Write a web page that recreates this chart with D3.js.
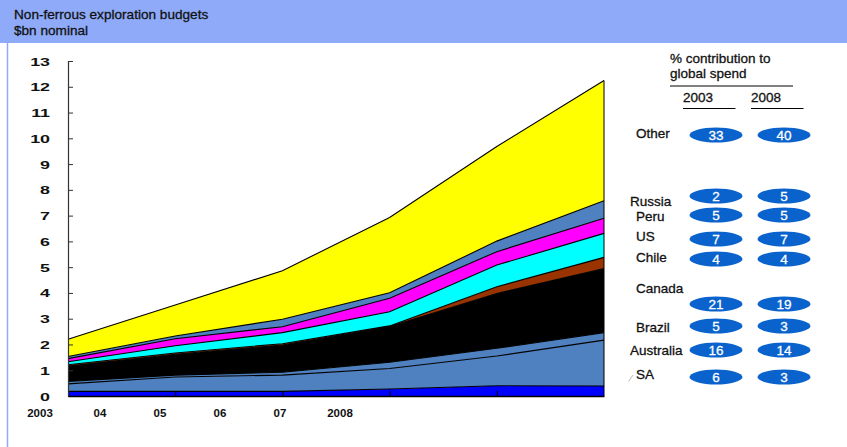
<!DOCTYPE html>
<html>
<head>
<meta charset="utf-8">
<script src="https://cdn.jsdelivr.net/npm/d3@7"></script>
<style>
  body { margin: 0; background: #fff; }
  svg { display: block; }
</style>
</head>
<body>
<svg id="chart" width="847" height="447"></svg>
<script>
// Non-ferrous exploration budgets by region, $bn nominal (stack layers, bottom to top)
const years = [2003, 2004, 2005, 2006, 2007, 2008];
const yearLabels = ["2003", "04", "05", "06", "07", "2008"];
const yTickValues = [0, 1, 2, 3, 4, 5, 6, 7, 8, 9, 10, 11, 12, 13];

const sa        = [0.18, 0.18, 0.18, 0.27, 0.40, 0.39];
const australia = [0.29, 0.56, 0.63, 0.80, 1.15, 1.78];
const brazil    = [0.09, 0.07, 0.11, 0.24, 0.30, 0.29];
const canada    = [0.60, 0.81, 1.06, 1.39, 2.13, 2.49];
const chile     = [0.05, 0.05, 0.05, 0.02, 0.26, 0.43];
const us        = [0.12, 0.28, 0.43, 0.55, 0.84, 0.93];
const peru      = [0.12, 0.27, 0.23, 0.52, 0.52, 0.59];
const russia    = [0.08, 0.11, 0.29, 0.22, 0.41, 0.68];
const other     = [0.67, 1.20, 1.88, 2.92, 3.67, 4.66];

const layerKeys = ["SA", "Australia", "Brazil", "Canada", "Chile", "US", "Peru", "Russia", "Other"];
const layerColors = ["#0000ff", "#4f80bf", "#4f80bf", "#000000", "#993300", "#00ffff", "#ff00ff", "#4f80bf", "#ffff00"];

// % contribution to global spend, listed top to bottom in the side table
const tableRegions = ["Other", "Russia", "Peru", "US", "Chile", "Canada", "Brazil", "Australia", "SA"];
const share2003 = [33, 2, 5, 7, 4, 21, 5, 16, 6];
const share2008 = [40, 5, 5, 7, 4, 19, 3, 14, 3];

const seriesByKey = { SA: sa, Australia: australia, Brazil: brazil, Canada: canada, Chile: chile,
                      US: us, Peru: peru, Russia: russia, Other: other };
const rows = years.map((yr, i) => {
  const r = { year: yr };
  layerKeys.forEach(k => { r[k] = seriesByKey[k][i]; });
  return r;
});

const svg = d3.select("#chart");
const W = 847, H = 447;

// header band and left rule
svg.append("rect").attr("x", 0).attr("y", 0).attr("width", W).attr("height", 43).attr("fill", "#8eaaf8");
svg.append("line").attr("x1", 7.5).attr("x2", 7.5).attr("y1", 43).attr("y2", H)
  .attr("stroke", "#8eaaf8").attr("stroke-width", 1.5);

const textFont = "'Liberation Sans', Arial, sans-serif";
// slightly heavier than regular weight
const medium = sel => sel.attr("stroke", "#111").attr("stroke-width", 0.3);

svg.append("text").attr("x", 14).attr("y", 19).text("Non-ferrous exploration budgets")
  .attr("font-family", textFont).attr("font-size", 13.6).attr("fill", "#111").call(medium);
svg.append("text").attr("x", 14).attr("y", 35).text("$bn nominal")
  .attr("font-family", textFont).attr("font-size", 13.6).attr("fill", "#111").call(medium);

// scales
const x = d3.scaleLinear().domain([2003, 2008]).range([68, 604]);
const y = d3.scaleLinear().domain([0, 13]).range([396, 61]);
const xLabel = d3.scalePoint().domain(yearLabels).range([40, 340]);

const stacked = d3.stack().keys(layerKeys)(rows);

const area = d3.area()
  .x(d => x(d.data.year))
  .y0(d => y(d[0]))
  .y1(d => y(d[1]));
const topLine = d3.line()
  .x(d => x(d.data.year))
  .y(d => y(d[1]));

const g = svg.append("g");
g.selectAll("path.layer").data(stacked).join("path")
  .attr("class", "layer")
  .attr("d", area)
  .attr("fill", (d, i) => layerColors[i]);

g.selectAll("path.edge").data(stacked).join("path")
  .attr("class", "edge")
  .attr("d", topLine)
  .attr("fill", "none")
  .attr("stroke", "#000")
  .attr("stroke-width", 1.1);

// right edge of the stack
const last = stacked[stacked.length - 1];
g.append("line")
  .attr("x1", x(2008)).attr("x2", x(2008))
  .attr("y1", y(0)).attr("y2", y(last[last.length - 1][1]))
  .attr("stroke", "#000").attr("stroke-width", 1);

// axes
const yAxis = d3.axisLeft(y).tickValues(yTickValues).tickSizeInner(-5).tickSizeOuter(0).tickFormat("");
const yG = svg.append("g").attr("transform", "translate(68,0)").call(yAxis);
yG.select(".domain").attr("stroke", "#333").attr("stroke-width", 1.2);
yG.selectAll(".tick line").attr("stroke", "#333");

const xAxis = d3.axisBottom(x).tickValues([2004, 2005, 2006, 2007]).tickSizeInner(-5).tickSizeOuter(0).tickFormat("");
const xG = svg.append("g").attr("transform", "translate(0,396)").call(xAxis);
xG.select(".domain").attr("stroke", "#000").attr("stroke-width", 1.5);
xG.selectAll(".tick line").attr("stroke", "#000");

// y tick labels, wide bold face
svg.append("g").selectAll("text").data(yTickValues).join("text")
  .attr("transform", d => `translate(50,${y(d) + 4.5}) scale(1.7,1)`)
  .attr("text-anchor", "end")
  .attr("font-family", textFont)
  .attr("font-weight", "bold")
  .attr("font-size", 10.5)
  .attr("fill", "#111")
  .text(d => d);

// x labels
svg.append("g").selectAll("text").data(yearLabels).join("text")
  .attr("x", d => xLabel(d))
  .attr("y", 417)
  .attr("text-anchor", "middle")
  .attr("font-family", textFont)
  .attr("font-weight", "bold")
  .attr("font-size", 11.5)
  .attr("fill", "#111")
  .text(d => d);

// side table
svg.append("text").attr("x", 670).attr("y", 63).text("% contribution to")
  .attr("font-family", textFont).attr("font-size", 13.5).attr("fill", "#111").call(medium);
svg.append("text").attr("x", 670).attr("y", 77.5).text("global spend")
  .attr("font-family", textFont).attr("font-size", 13.5).attr("fill", "#111").call(medium);
svg.append("line").attr("x1", 670).attr("x2", 793).attr("y1", 86).attr("y2", 86).attr("stroke", "#000");
const colX = d3.scalePoint().domain(["2003", "2008"]).range([716, 784]);
["2003", "2008"].forEach(c => {
  svg.append("text").attr("x", colX(c) - 33).attr("y", 101.5).text(c)
    .attr("font-family", textFont).attr("font-size", 13.5).attr("fill", "#111").call(medium);
  svg.append("line").attr("x1", colX(c) - 33).attr("x2", colX(c) + 19.5)
    .attr("y1", 108.5).attr("y2", 108.5).attr("stroke", "#000");
});

const rowY = d3.scaleOrdinal().domain(tableRegions).range([135, 196, 215, 239, 259, 304, 326, 350, 377]);
const labelY = d3.scaleOrdinal().domain(tableRegions).range([138, 206, 221, 241, 262, 293, 332, 355, 379]);
const labelX = d3.scaleOrdinal().domain(tableRegions).range([636, 630, 636, 636, 636, 636, 636, 630, 636]);

const rowsG = svg.append("g");
tableRegions.forEach((reg, i) => {
  rowsG.append("text").attr("x", labelX(reg)).attr("y", labelY(reg)).text(reg)
    .attr("font-family", textFont).attr("font-size", 13.5).attr("fill", "#111").call(medium);
  [["2003", share2003[i]], ["2008", share2008[i]]].forEach(([c, v]) => {
    rowsG.append("ellipse").attr("cx", colX(c)).attr("cy", rowY(reg))
      .attr("rx", 26.5).attr("ry", 7.5).attr("fill", "#0a62cc");
    rowsG.append("text").attr("x", colX(c)).attr("y", rowY(reg) + 5)
      .attr("text-anchor", "middle").text(v)
      .attr("font-family", textFont).attr("font-size", 13.5).attr("fill", "#fff")
      .attr("stroke", "#fff").attr("stroke-width", 0.3);
  });
});
// small stroke beside SA
svg.append("line").attr("x1", 628.5).attr("y1", 381.5).attr("x2", 633).attr("y2", 375)
  .attr("stroke", "#bbb").attr("stroke-width", 1);
</script>
</body>
</html>
